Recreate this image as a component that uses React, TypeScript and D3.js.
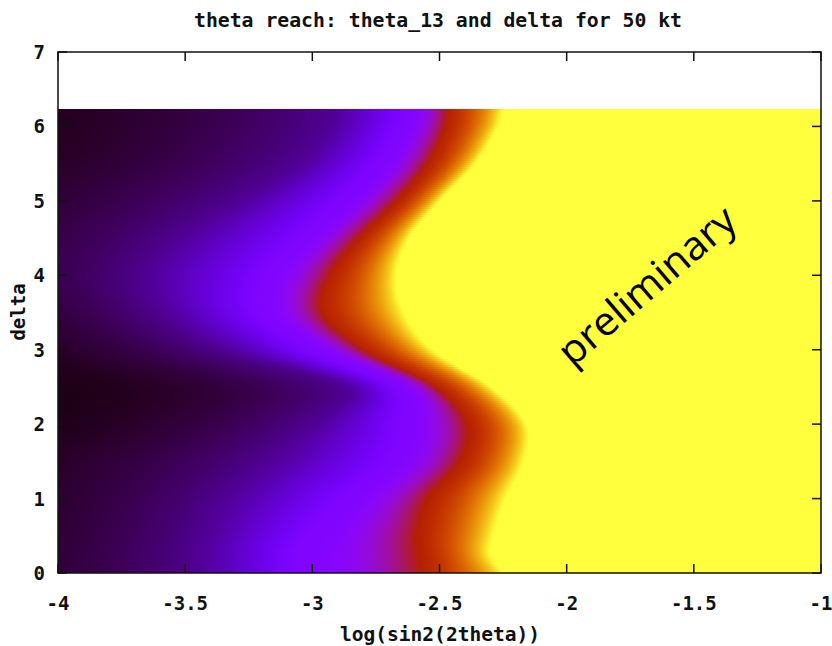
import React, { useMemo } from "react";
import * as d3 from "d3";

// Rows of the reach map: delta values (rad) at which the contours were sampled
const DELTA = [0, 0.25, 0.5, 1, 1.5, 2, 2.5, 3, 3.5, 4, 4.5, 5, 5.5, 6, 6.23];
// Colour value at the left edge, log(sin2(2theta)) = -4
const Z_AT_LEFT = [0.035, 0.035, 0.033, 0.03, 0.025, 0.015, 0.012, 0.025, 0.04, 0.05, 0.045, 0.035, 0.025, 0.02, 0.02];
// log(sin2(2theta)) where the colour value reaches 0.1, 0.25, 0.52 and 1
const X_AT_010 = [-3.44, -3.44, -3.42, -3.34, -3.17, -2.99, -2.87, -3.34, -3.58, -3.64, -3.52, -3.28, -3.05, -2.93, -2.91];
const X_AT_025 = [-3.07, -3.07, -3.03, -2.89, -2.71, -2.66, -2.68, -3.01, -3.21, -3.19, -3.05, -2.89, -2.75, -2.66, -2.64];
const X_AT_052 = [-2.55, -2.56, -2.57, -2.53, -2.41, -2.38, -2.51, -2.79, -2.95, -2.92, -2.81, -2.66, -2.54, -2.47, -2.46];
const X_AT_100 = [-2.25, -2.30, -2.29, -2.24, -2.17, -2.16, -2.30, -2.53, -2.64, -2.67, -2.62, -2.50, -2.36, -2.27, -2.25];

const X_TICKS = [-4, -3.5, -3, -2.5, -2, -1.5, -1];
const Y_TICKS = [0, 1, 2, 3, 4, 5, 6, 7];

const TITLE = "theta reach: theta_13 and delta for 50 kt";
const X_LABEL = "log(sin2(2theta))";
const Y_LABEL = "delta";
const NOTE = "preliminary";

const MONO = "'DejaVu Sans Mono', 'Liberation Mono', monospace";

// Smooth (cubic Hermite) interpolation of a sampled column along delta
function hermite(ts: number[], vs: number[], t: number): number {
  const n = ts.length;
  if (t <= ts[0]) return vs[0];
  if (t >= ts[n - 1]) return vs[n - 1];
  const i = Math.min(n - 2, Math.max(0, d3.bisectRight(ts, t) - 1));
  const slope = (k: number) => {
    if (k === 0) return (vs[1] - vs[0]) / (ts[1] - ts[0]);
    if (k === n - 1) return (vs[n - 1] - vs[n - 2]) / (ts[n - 1] - ts[n - 2]);
    return (vs[k + 1] - vs[k - 1]) / (ts[k + 1] - ts[k - 1]);
  };
  const h = ts[i + 1] - ts[i];
  const s = (t - ts[i]) / h;
  const s2 = s * s, s3 = s2 * s;
  return (
    (2 * s3 - 3 * s2 + 1) * vs[i] +
    (s3 - 2 * s2 + s) * h * slope(i) +
    (-2 * s3 + 3 * s2) * vs[i + 1] +
    (s3 - s2) * h * slope(i + 1)
  );
}

// gnuplot rgbformulae 7,5,15 (black - purple - red - yellow)
function palette(z: number): string {
  const v = Math.max(0, Math.min(1, z));
  const r = Math.sqrt(v);
  const g = v * v * v;
  const b = Math.max(0, Math.sin(2 * Math.PI * v)) + 0.24 * Math.pow(v, 10);
  const c = (u: number) => Math.round(Math.max(0, Math.min(1, u)) * 255);
  return `rgb(${c(r)},${c(g)},${c(b)})`;
}

// Colour value along one delta row, between the sampled contour positions
function rowValue(xv: number, z0: number, x10: number, x25: number, x52: number, x100: number): number {
  if (xv >= x100) return 1;
  if (xv >= x52) {
    const t = (xv - x52) / (x100 - x52);
    return 0.52 + 0.48 * Math.pow(t, 1.25);
  }
  if (xv >= x25) {
    const t = (xv - x25) / (x52 - x25);
    return 0.25 + 0.27 * t * t;
  }
  if (xv >= x10) return Math.exp(Math.log(0.1) + (Math.log(0.25) - Math.log(0.1)) * (xv - x10) / (x25 - x10));
  const t = (xv + 4) / (x10 + 4);
  return Math.exp(Math.log(z0) + (Math.log(0.1) - Math.log(z0)) * Math.max(0, t));
}

export default function App() {
  const W = 832;
  const H = 646;
  const x = d3.scaleLinear().domain([-4, -1]).range([58, 821]);
  const y = d3.scaleLinear().domain([0, 7]).range([573, 52]);
  const [x0, x1] = x.range();
  const [yb, yt] = y.range();
  const tick = 9;

  const rows = useMemo(() => {
    const out: { id: string; y: number; h: number; stops: { o: number; c: string }[] }[] = [];
    const top = Math.round(y(DELTA[DELTA.length - 1]));
    const step = 2;
    for (let py = top; py < yb; py += step) {
      const h = Math.min(step, yb - py);
      const d = y.invert(py + h / 2);
      const z0 = hermite(DELTA, Z_AT_LEFT, d);
      const a = hermite(DELTA, X_AT_010, d);
      const b = hermite(DELTA, X_AT_025, d);
      const c = hermite(DELTA, X_AT_052, d);
      const e = hermite(DELTA, X_AT_100, d);
      const stops: { o: number; c: string }[] = [];
      const endPx = Math.min(x1, x(e) + 3);
      for (let px = x0; px <= endPx; px += 3) {
        stops.push({ o: (px - x0) / (x1 - x0), c: palette(rowValue(x.invert(px), z0, a, b, c, e)) });
      }
      stops.push({ o: 1, c: palette(1) });
      out.push({ id: `row${py}`, y: py, h, stops });
    }
    return out;
  }, []);

  return (
    <svg
      width={W}
      height={H}
      viewBox={`0 0 ${W} ${H}`}
      style={{ position: "absolute", left: 0, top: 0, background: "#fff" }}
    >
      <defs>
        {rows.map((r) => (
          <linearGradient key={r.id} id={r.id} gradientUnits="userSpaceOnUse" x1={x0} x2={x1} y1={0} y2={0}>
            {r.stops.map((s, i) => (
              <stop key={i} offset={s.o} stopColor={s.c} />
            ))}
          </linearGradient>
        ))}
      </defs>
      <rect x={0} y={0} width={W} height={H} fill="#fff" />

      {/* heat map rows */}
      <g>
        {rows.map((r) => (
          <rect key={r.id} x={x0} y={r.y} width={x1 - x0} height={r.h} fill={`url(#${r.id})`} shapeRendering="crispEdges" />
        ))}
      </g>

      {/* border and ticks */}
      <rect x={x0} y={yt} width={x1 - x0} height={yb - yt} fill="none" stroke="#111" strokeWidth={1.5} />
      {X_TICKS.map((v) => (
        <g key={`xt${v}`} stroke="#111" strokeWidth={1.5}>
          <line x1={x(v)} x2={x(v)} y1={yb} y2={yb - tick} />
          <line x1={x(v)} x2={x(v)} y1={yt} y2={yt + tick} />
        </g>
      ))}
      {Y_TICKS.map((v) => (
        <g key={`yt${v}`} stroke="#111" strokeWidth={1.5}>
          <line x1={x0} x2={x0 + tick} y1={y(v)} y2={y(v)} />
          <line x1={x1} x2={x1 - tick} y1={y(v)} y2={y(v)} />
        </g>
      ))}

      {/* tick labels */}
      <g fontFamily={MONO} fontWeight="bold" fontSize={19} fill="#111">
        {X_TICKS.map((v) => (
          <text key={`xl${v}`} x={x(v)} y={603} textAnchor="middle" dominantBaseline="central">
            {String(v)}
          </text>
        ))}
        {Y_TICKS.map((v) => (
          <text key={`yl${v}`} x={45} y={y(v)} textAnchor="end" dominantBaseline="central">
            {String(v)}
          </text>
        ))}
      </g>

      {/* title and axis titles */}
      <g fontFamily={MONO} fontWeight="bold" fontSize={19} fill="#111">
        <text x={438} y={20} textAnchor="middle" dominantBaseline="central" textLength={488} lengthAdjust="spacingAndGlyphs">
          {TITLE}
        </text>
        <text x={440} y={634} textAnchor="middle" dominantBaseline="central" textLength={200} lengthAdjust="spacingAndGlyphs">
          {X_LABEL}
        </text>
        <text transform="translate(18, 312) rotate(-90)" textAnchor="middle" dominantBaseline="central">
          {Y_LABEL}
        </text>
      </g>

      <text
        transform="translate(648, 287) rotate(-40.6)"
        textAnchor="middle"
        dy="0.3em"
        fontFamily="'Open Sans', 'Noto Sans', sans-serif"
        fontSize={40}
        fill="#000"
        textLength={220}
        lengthAdjust="spacingAndGlyphs"
      >
        {NOTE}
      </text>
    </svg>
  );
}
